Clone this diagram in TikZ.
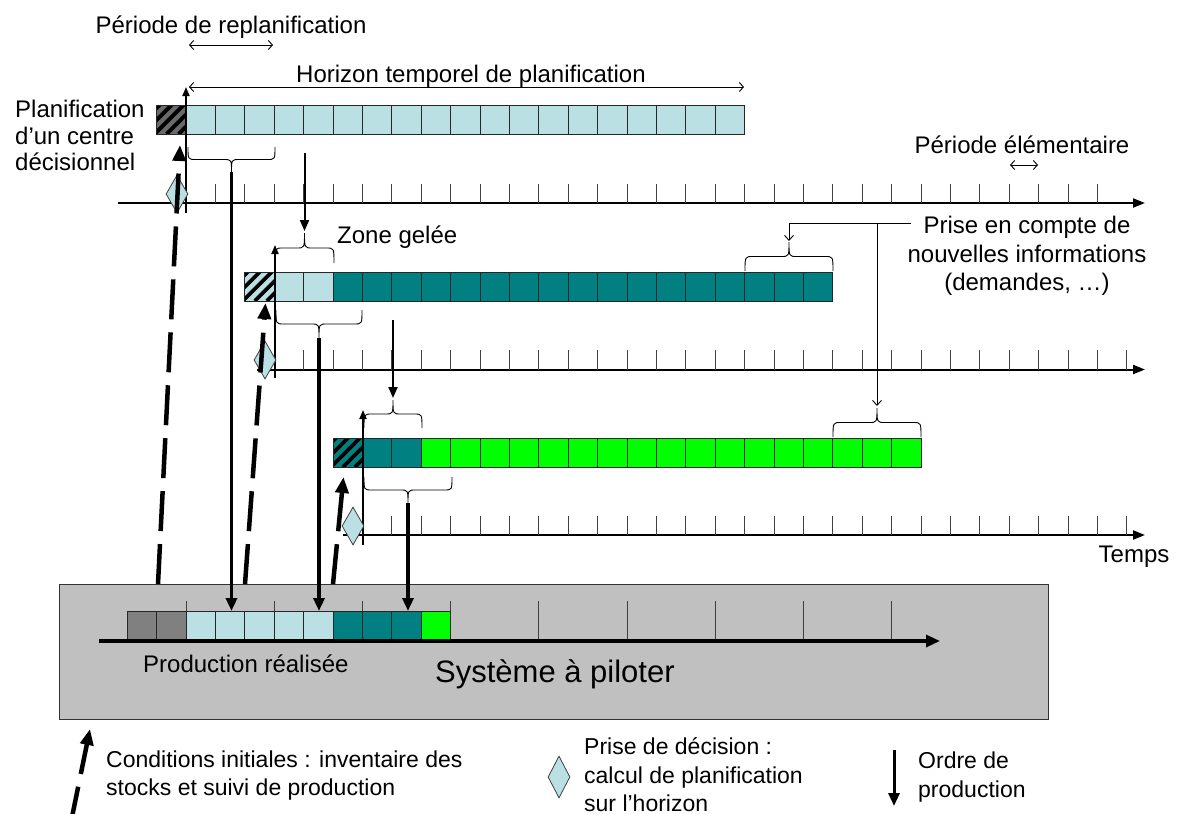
\documentclass[tikz,border=0pt]{standalone}
\usepackage{fontspec}
\setmainfont{Liberation Sans}
\usetikzlibrary{arrows.meta,shapes.geometric}
\definecolor{lb}{HTML}{BBE0E3}
\definecolor{tl}{HTML}{008080}
\definecolor{gr}{HTML}{00FF00}
\definecolor{boxgray}{HTML}{C0C0C0}
\definecolor{cellgray}{HTML}{808080}
\definecolor{hatchgray}{HTML}{6A6A6A}
\newcommand\mybrace[4]{%
  \draw[bracel] (#1,#3) .. controls (#1,{#3+(#4)}) .. ({#1+8},{#3+(#4)})
    -- ({(#1+#2)/2-8},{#3+(#4)}) .. controls ({(#1+#2)/2},{#3+(#4)}) .. ({(#1+#2)/2},{#3+2*(#4)})
    .. controls ({(#1+#2)/2},{#3+(#4)}) .. ({(#1+#2)/2+8},{#3+(#4)})
    -- ({#2-8},{#3+(#4)}) .. controls (#2,{#3+(#4)}) .. (#2,#3);}
\begin{document}
\begin{tikzpicture}[x=1pt,y=-1pt,
  txt/.style={font=\fontsize{24}{28}\selectfont, inner sep=0pt},
  lgd/.style={font=\fontsize{23}{28}\selectfont, inner sep=0pt},
  cell/.style={draw=black!85, line width=0.9pt, minimum width=29.4pt, minimum height=29pt, inner sep=0pt, outer sep=0pt},
  hatch/.style={cell, fill=#1, path picture={\foreach \k in {-2,...,2}{\draw[black, line width=3.8pt] ([xshift=\k*12pt-2pt]path picture bounding box.south west) -- ++(45pt,45pt);}}},
  axis/.style={line width=2pt, -{Triangle[length=12pt,width=9pt]}},
  vaxis/.style={line width=1.8pt, -{Triangle[length=9pt,width=7pt]}},
  paxis/.style={line width=3.2pt, -{Triangle[length=14pt,width=12pt]}},
  tickl/.style={black!75, line width=1pt},
  dia/.style={diamond, draw=black!75, fill=lb, line width=0.8pt, minimum width=22pt, minimum height=38pt, inner sep=0pt},
  bigord/.style={line width=3.8pt, -{Triangle[length=13pt,width=11pt]}},
  smallord/.style={line width=2pt, -{Triangle[length=11pt,width=9pt]}},
  initarrow/.style={line width=4.5pt, dash pattern=on 40pt off 13pt, -{Triangle[length=16pt,width=13pt]}},
  dbl/.style={line width=0.9pt, {Straight Barb[length=4pt,width=9pt]}-{Straight Barb[length=4pt,width=9pt]}},
  infoarrow/.style={line width=0.9pt, -{Straight Barb[length=5pt,width=9pt]}},
  bracel/.style={line width=0.9pt}
]
\useasboundingbox (0,0) rectangle (1192,814);

% ---------- system box ----------
\node[draw=black!80, fill=boxgray, line width=1.2pt, minimum width=989pt, minimum height=135pt, inner sep=0pt, anchor=north west] (sys) at (59,584) {};
\foreach \k in {0,...,8} \draw[tickl] ({186+\k*88.2},601) -- ({186+\k*88.2},641);
\foreach \i/\c in {0/cellgray,1/cellgray,2/lb,3/lb,4/lb,5/lb,6/lb,7/tl,8/tl,9/tl,10/gr}
  \node[cell, fill=\c] (p\i) at ({127.2+14.7+\i*29.4},625.5) {};
\coordinate (pa0) at (99,641);
\coordinate (pa1) at (940,641);
\draw[paxis] (pa0) -- (pa1);
\node[txt, anchor=base west] (prodlbl) at (143,672) {Production réalisée};
\node[font=\fontsize{31}{36}\selectfont, inner sep=0pt, anchor=base west] (syslbl) at (435,682) {Système à piloter};

% ---------- row 1 ----------
\node[hatch=hatchgray] (r1c0) at ({186-14.7},119.5) {};
\foreach \i in {1,...,19} \node[cell, fill=lb] (r1c\i) at ({186-14.7+\i*29.4},119.5) {};
\draw[axis] (118,203) -- (1145,203);
\foreach \k in {1,...,31} \draw[tickl] ({186+\k*29.4},184) -- ({186+\k*29.4},203);
\draw[vaxis] (186,213) -- (186,87);

% ---------- row 2 ----------
\node[hatch=lb] (r2c0) at ({274.2-14.7},286.5) {};
\foreach \i/\c in {1/lb,2/lb,3/tl,4/tl,5/tl,6/tl,7/tl,8/tl,9/tl,10/tl,11/tl,12/tl,13/tl,14/tl,15/tl,16/tl,17/tl,18/tl,19/tl}
  \node[cell, fill=\c] (r2c\i) at ({274.2-14.7+\i*29.4},286.5) {};
\draw[axis] (257,369.5) -- (1145,369.5);
\foreach \k in {1,...,29} \draw[tickl] ({274.2+\k*29.4},350) -- ({274.2+\k*29.4},369.5);
\draw[vaxis] (275,378) -- (275,245);

% ---------- row 3 ----------
\node[hatch=tl] (r3c0) at ({362.4-14.7},452.5) {};
\foreach \i/\c in {1/tl,2/tl,3/gr,4/gr,5/gr,6/gr,7/gr,8/gr,9/gr,10/gr,11/gr,12/gr,13/gr,14/gr,15/gr,16/gr,17/gr,18/gr,19/gr}
  \node[cell, fill=\c] (r3c\i) at ({362.4-14.7+\i*29.4},452.5) {};
\draw[axis] (343,535) -- (1145,535);
\foreach \k in {1,...,26} \draw[tickl] ({362.4+\k*29.4},516) -- ({362.4+\k*29.4},535);
\draw[vaxis] (363,545) -- (363,410);

% ---------- braces ----------
\mybrace{188}{275}{147}{12.5}
\mybrace{275}{334}{263}{-15}
\mybrace{276}{362}{310}{14}
\mybrace{745}{833}{271}{-14.5}
\mybrace{364}{422}{428}{-14}
\mybrace{364}{452}{477}{13}
\mybrace{833}{921}{437}{-14.5}
\coordinate (t1) at (231.5,172);
\coordinate (t2) at (319,338);
\coordinate (t3) at (408,503);
\coordinate (z2) at (304.5,231);
\coordinate (z3) at (393,398);
\coordinate (n2) at (789,241);
\coordinate (n3) at (877,406);

% ---------- order arrows ----------
\draw[bigord] (t1) -- (t1 |- p3.north);
\draw[bigord] (t2) -- (t2 |- p6.north);
\draw[bigord] (t3) -- (t3 |- p9.north);
\coordinate (s2) at (304.5,153);
\coordinate (s3) at (393,320);
\draw[smallord] (s2) -- (z2);
\draw[smallord] (s3) -- (z3);

% ---------- decisions ----------
\node[dia] (dm1) at (177,194) {};
\node[dia] (dm2) at (265,360) {};
\node[dia] (dm3) at (353,526) {};

% ---------- initial conditions ----------
\coordinate (ds1) at (158,584); \coordinate (de1) at (180,145);
\coordinate (ds2) at (245,584); \coordinate (de2) at (265.5,303);
\coordinate (ds3) at (333,584); \coordinate (de3) at (343.5,477);
\draw[initarrow] (ds1) -- (de1);
\draw[initarrow] (ds2) -- (de2);
\draw[initarrow] (ds3) -- (de3);

% ---------- labels ----------
\node[txt, anchor=base] (replbl) at (231,33) {Période de replanification};
\coordinate (ra) at (189,45); \coordinate (rb) at (273,45);
\draw[dbl] (ra) -- (rb);
\node[txt, anchor=base] (horlbl) at (471,82) {Horizon temporel de planification};
\coordinate (ha) at (189,87); \coordinate (hb) at (744,87);
\draw[dbl] (ha) -- (hb);
\node[txt, anchor=base west] (pl1) at (15,117) {Planification};
\node[txt, anchor=base west] (pl2) at (15,144) {d’un centre};
\node[txt, anchor=base west] (pl3) at (15,170) {décisionnel};
\node[txt, anchor=base west] (zone) at (337,243) {Zone gelée};
\node[txt, anchor=base] (pelem) at (1022,153) {Période élémentaire};
\coordinate (ea) at (1010,165); \coordinate (eb) at (1038,165);
\draw[dbl] (ea) -- (eb);
\node[txt, anchor=base] (info1) at (1027,233) {Prise en compte de};
\node[txt, anchor=base] (info2) at (1027,262) {nouvelles informations};
\node[txt, anchor=base] (info3) at (1027,290) {(demandes, …)};
\coordinate (ij) at (911,223);
\coordinate (ij2) at (877,223);
\draw[infoarrow] (ij) -| (n2);
\draw[infoarrow] (ij2) -- (n3);
\node[txt, anchor=base] (temps) at (1134,562) {Temps};

% ---------- legend ----------
\coordinate (ls) at (71,822); \coordinate (le) at (90,729);
\draw[initarrow, dash phase=4pt] (ls) -- (le);
\node[lgd, anchor=base west] (lg1) at (106,767) {Conditions initiales : inventaire des};
\node[lgd, anchor=base west] (lg2) at (106,795) {stocks et suivi de production};
\node[dia, minimum height=42pt] (ldia) at (559,777) {};
\node[lgd, anchor=base west] (lg3) at (584,754) {Prise de décision :};
\node[lgd, anchor=base west] (lg4) at (584,783) {calcul de planification};
\node[lgd, anchor=base west] (lg5) at (584,811) {sur l’horizon};
\coordinate (oa) at (894,750); \coordinate (ob) at (894,806);
\draw[bigord, line width=3pt] (oa) -- (ob);
\node[lgd, anchor=base west] (lg6) at (918,768) {Ordre de};
\node[lgd, anchor=base west] (lg7) at (918,797) {production};
\end{tikzpicture}
\end{document}
